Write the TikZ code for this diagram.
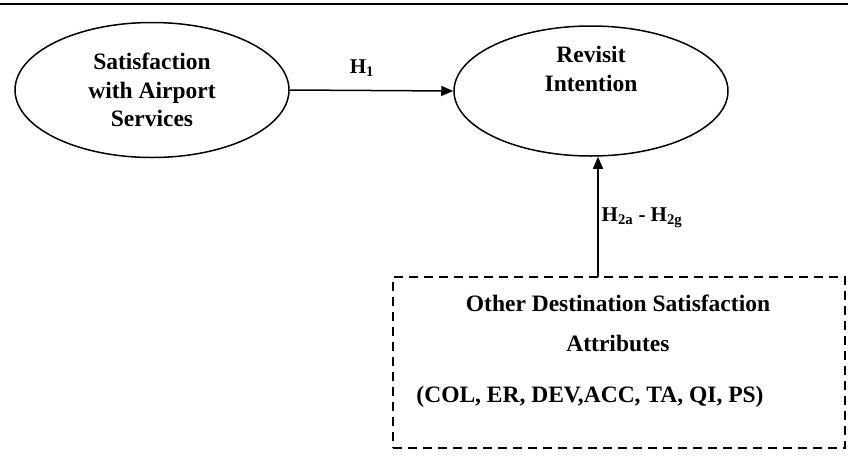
\documentclass[tikz,border=0pt]{standalone}
\usepackage{fontspec}
\setmainfont{Liberation Serif}
\usetikzlibrary{shapes.geometric,arrows.meta}
\begin{document}
\begin{tikzpicture}[x=1pt,y=-1pt,
  txt/.style={font=\bfseries\fontsize{23.5}{28.5}\selectfont, align=center},
  construct/.style={ellipse, draw, line width=1.5pt, minimum width=274pt, minimum height=135pt, inner sep=0pt},
  attrbox/.style={draw, dashed, dash pattern=on 9pt off 6pt, line width=1.8pt, minimum width=452pt, minimum height=171pt, inner sep=0pt},
  link/.style={line width=1.5pt, -{Triangle[length=12pt,width=10pt]}},
  lab/.style={font=\bfseries\fontsize{21}{24}\selectfont}]
\useasboundingbox (0,0) rectangle (848,466);
\coordinate (tl) at (0,4);
\coordinate (tr) at (848,4);
\draw[line width=1.8pt] (tl) -- (tr);
\node[construct] (sat) at (152,90) {};
\node[txt] (sattxt) at (152,90) {Satisfaction\\with Airport\\Services};
\node[construct, minimum height=130pt] (rev) at (591,91) {};
\node[txt] (revtxt) at (591,69) {Revisit\\Intention};
\node[attrbox] (box) at (619,362.5) {};
\node[txt] (l1) at (618,303) {Other Destination Satisfaction};
\node[txt] (l2) at (618,343) {Attributes};
\node[txt] (l3) at (590,397) {(COL, ER, DEV,ACC, TA, QI, PS)};
\draw[link] (sat.east) -- (rev.west);
\node[lab] (h1) at (362,68) {H\textsubscript{1}};
\coordinate (boxtop) at (598,277);
\draw[link] (boxtop) -- (rev.south -| boxtop);
\node[lab] (h2) at (642,218) {H\textsubscript{2a} - H\textsubscript{2g}};
\end{tikzpicture}
\end{document}
